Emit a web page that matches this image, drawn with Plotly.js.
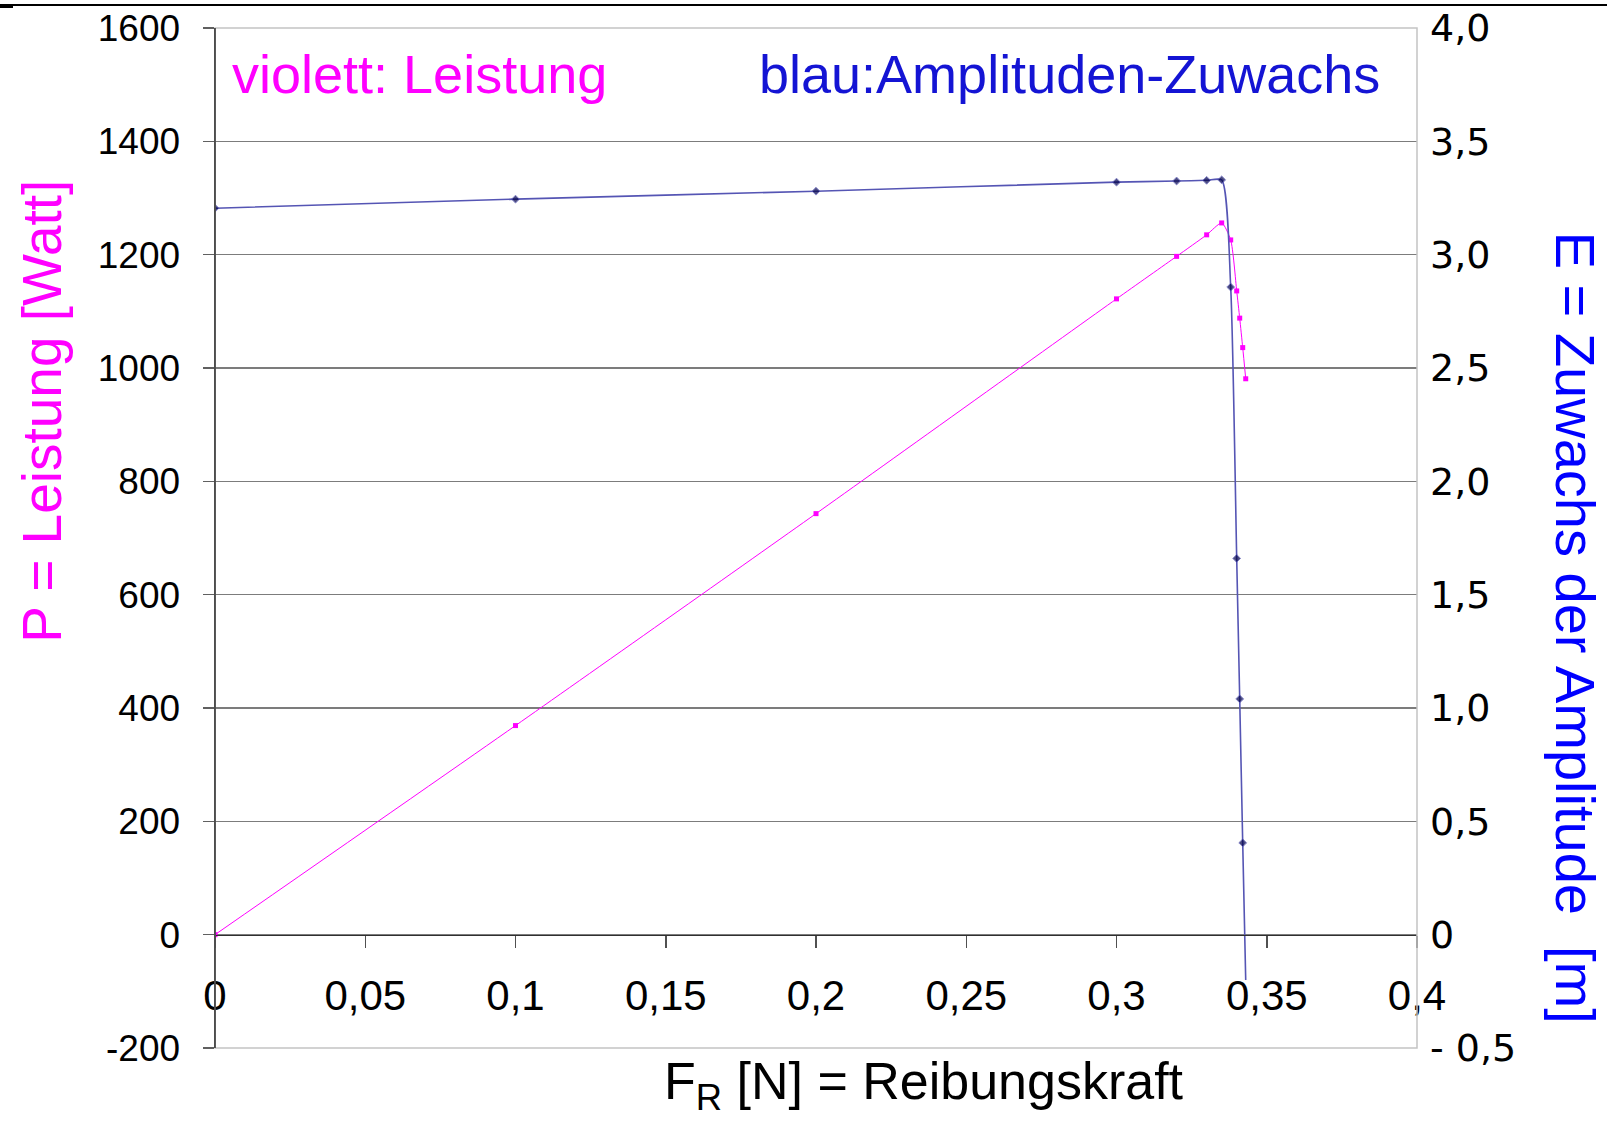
<!DOCTYPE html>
<html>
<head>
<meta charset="utf-8">
<script src="https://cdn.plot.ly/plotly-3.0.1.min.js"></script>
<style>
  html, body { margin: 0; padding: 0; background: #ffffff; }
  #chart { width: 1607px; height: 1122px; }
</style>
</head>
<body>
<div id="chart"></div>
<script>
// ---- data ----
const forceN  = [0, 0.1, 0.2, 0.3, 0.32, 0.33, 0.335, 0.338, 0.34, 0.341, 0.342, 0.343];
const powerW  = [0, 369, 743, 1122, 1197, 1235, 1256, 1226, 1136, 1088, 1036, 981];
const gainM   = [3.205, 3.245, 3.28, 3.32, 3.325, 3.328, 3.33, 2.857, 1.66, 1.04, 0.405, -0.2];

const xTickVals  = [0, 0.05, 0.1, 0.15, 0.2, 0.25, 0.3, 0.35, 0.4];
const xTickText  = ['0', '0,05', '0,1', '0,15', '0,2', '0,25', '0,3', '0,35', '0,4'];
const yTickVals  = [-200, 0, 200, 400, 600, 800, 1000, 1200, 1400, 1600];
const yTickText  = ['-200', '0', '200', '400', '600', '800', '1000', '1200', '1400', '1600'];
const y2TickVals = [-0.5, 0, 0.5, 1.0, 1.5, 2.0, 2.5, 3.0, 3.5, 4.0];
const y2TickText = ['- 0,5', '0', '0,5', '1,0', '1,5', '2,0', '2,5', '3,0', '3,5', '4,0'];

const labelPower = 'violett: Leistung';
const labelGain  = 'blau:Amplituden-Zuwachs';
const titleX     = 'F<sub>R</sub> [N] = Reibungskraft';
const titleY     = 'P = Leistung [Watt]';
const titleY2    = 'E = Zuwachs der Amplitude  [m]';

const FONT = 'Liberation Sans, Arial, sans-serif';
const WIDE = 'DejaVu Sans, Liberation Sans, Arial, sans-serif';

const tracePower = {
  x: forceN, y: powerW, type: 'scatter', mode: 'lines+markers',
  line: { color: '#ff00ff', width: 1, shape: 'spline', smoothing: 0.6 },
  marker: { color: '#ff00ff', size: 5, symbol: 'square' },
  xaxis: 'x', yaxis: 'y', hoverinfo: 'skip', showlegend: false
};
const traceGain = {
  x: forceN, y: gainM, type: 'scatter', mode: 'lines+markers',
  line: { color: '#5555b4', width: 1.6, shape: 'spline', smoothing: 0.6 },
  marker: { color: '#00004a', size: forceN.map((v, i) => i === forceN.length - 1 ? 0 : 6), symbol: 'diamond' },
  xaxis: 'x', yaxis: 'y2', hoverinfo: 'skip', showlegend: false
};

const L = 215, R = 1417, T = 28, B = 1048.5;
const W = 1607, H = 1122;
const pw = R - L, ph = B - T;
const px = v => (v - L) / pw;          // pixel -> paper x
const py = v => (B - v) / ph;          // pixel -> paper y

const layout = {
  width: W, height: H,
  margin: { l: L, r: W - R, t: T, b: H - B, pad: 0 },
  paper_bgcolor: '#ffffff', plot_bgcolor: '#ffffff',
  font: { family: FONT, color: '#000000', size: 37 },
  showlegend: false,
  hovermode: false,
  xaxis: {
    range: [0, 0.4], anchor: 'free', position: 200 / 1800,
    tickvals: xTickVals, ticktext: xTickText,
    tickfont: { family: FONT, size: 42, color: '#000000' },
    ticks: 'outside', ticklen: 12, tickwidth: 1.5, tickcolor: '#505050',
    ticklabelstandoff: 11,
    showline: true, linecolor: '#303030', linewidth: 1.5,
    showgrid: false, zeroline: false, fixedrange: true
  },
  yaxis: {
    range: [-200, 1600],
    tickvals: yTickVals, ticktext: yTickText,
    tickfont: { family: FONT, size: 37, color: '#000000' },
    ticks: 'outside', ticklen: 11, tickwidth: 1.5, tickcolor: '#606060',
    ticklabelstandoff: 15,
    showline: true, linecolor: '#303030', linewidth: 1.5,
    showgrid: true, gridcolor: '#7c7c7c', gridwidth: 1.5,
    zeroline: false, fixedrange: true
  },
  yaxis2: {
    range: [-0.5, 4.0], overlaying: 'y', side: 'right', anchor: 'x',
    tickvals: y2TickVals, ticktext: y2TickText,
    tickfont: { family: WIDE, size: 38, color: '#000000' },
    ticks: '', ticklabelstandoff: 12,
    showline: false, showgrid: false, zeroline: false, fixedrange: true
  },
  shapes: [
    { type: 'rect', xref: 'paper', yref: 'paper', x0: 0, x1: 1, y0: 0, y1: 1,
      line: { color: '#c4c4c4', width: 1.5 }, layer: 'above' },
    { type: 'line', xref: 'paper', yref: 'paper', x0: 0, x1: 0, y0: 0, y1: 1,
      line: { color: '#303030', width: 1.5 }, layer: 'above' },
    { type: 'line', xref: 'paper', yref: 'paper', x0: px(0), x1: px(W), y0: py(5), y1: py(5),
      line: { color: '#000000', width: 2 }, layer: 'above' },
    { type: 'line', xref: 'paper', yref: 'paper', x0: px(0), x1: px(13), y0: py(6), y1: py(6),
      line: { color: '#000000', width: 4 }, layer: 'above' }
  ],
  annotations: [
    { text: labelPower, xref: 'paper', yref: 'paper', x: px(230), y: py(74),
      xanchor: 'left', yanchor: 'middle', showarrow: false,
      font: { family: FONT, size: 54, color: '#ff00ff' } },
    { text: labelGain, xref: 'paper', yref: 'paper', x: px(1382), y: py(74),
      xanchor: 'right', yanchor: 'middle', showarrow: false,
      font: { family: FONT, size: 54, color: '#1414d4' } },
    { text: titleY, xref: 'paper', yref: 'paper', x: px(42), y: py(412),
      xanchor: 'center', yanchor: 'middle', textangle: -90, showarrow: false,
      font: { family: FONT, size: 55, color: '#ff00ff' } },
    { text: titleY2, xref: 'paper', yref: 'paper', x: px(1575), y: py(628),
      xanchor: 'center', yanchor: 'middle', textangle: 90, showarrow: false,
      font: { family: FONT, size: 56, color: '#0000ff' } },
    { text: titleX, xref: 'paper', yref: 'paper', x: px(924), y: py(1086),
      xanchor: 'center', yanchor: 'middle', showarrow: false,
      font: { family: FONT, size: 52, color: '#000000' } }
  ]
};

Plotly.newPlot('chart', [tracePower, traceGain], layout, { displayModeBar: false, staticPlot: true });
</script>
</body>
</html>
